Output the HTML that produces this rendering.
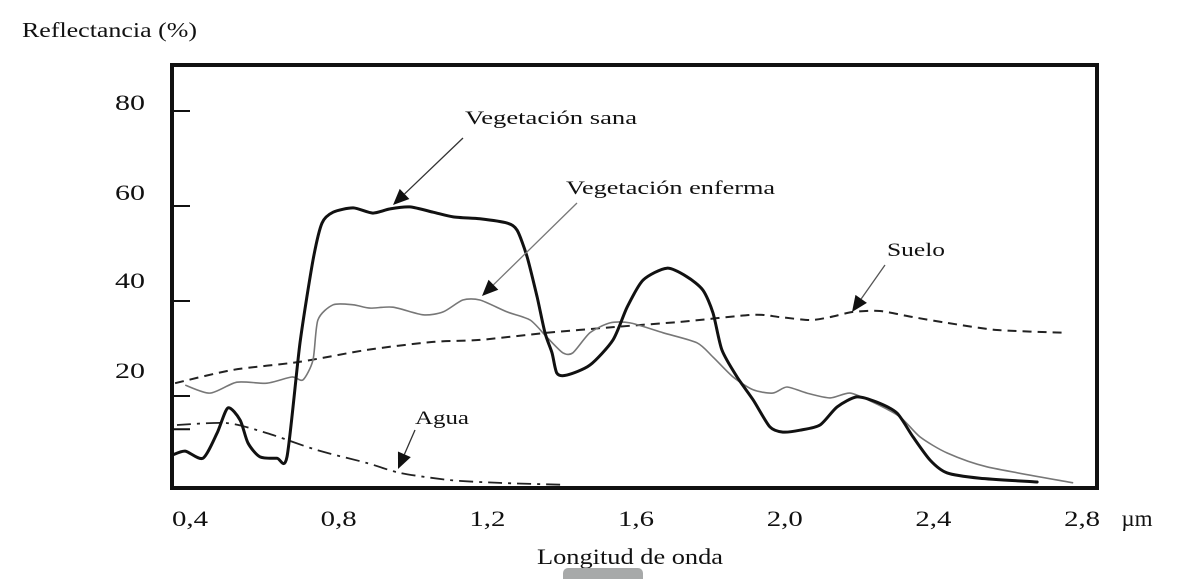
<!DOCTYPE html>
<html><head><meta charset="utf-8"><style>
html,body{margin:0;padding:0;background:#fff;}
svg{display:block;font-family:"Liberation Serif",serif;}
</style></head><body>
<svg id="chart" width="1180" height="579" viewBox="0 0 1180 579" xmlns="http://www.w3.org/2000/svg">
<text x="22" y="37" font-size="21" textLength="175" lengthAdjust="spacingAndGlyphs" fill="#111">Reflectancia (%)</text>
<text x="537" y="564" font-size="22" textLength="186" lengthAdjust="spacingAndGlyphs" fill="#111">Longitud de onda</text>
<rect x="563" y="568" width="80" height="16" rx="5" fill="#a7a9a9"/>
<g id="marks"></g>
<rect x="172" y="65" width="925" height="423" fill="none" stroke="#111" stroke-width="4"/>
<g id="ticks"></g>
<g fill="#111" font-size="19">
<text x="465" y="124" textLength="172" lengthAdjust="spacingAndGlyphs">Vegetación sana</text>
<text x="566" y="194" textLength="209" lengthAdjust="spacingAndGlyphs">Vegetación enferma</text>
<text x="887" y="256" textLength="58" lengthAdjust="spacingAndGlyphs">Suelo</text>
<text x="415" y="424" textLength="54" lengthAdjust="spacingAndGlyphs">Agua</text>
</g>
<g id="arrows"></g>
</svg>
<script>
// ---- data ----
const xTicks = [0.4, 0.8, 1.2, 1.6, 2.0, 2.4, 2.8];
const xTickLabels = ["0,4", "0,8", "1,2", "1,6", "2,0", "2,4", "2,8"];
const yTicks = [80, 60, 40, 20, 13];
const yTickLabels = ["80", "60", "40", "20", ""];
const sanaWl = [0.354,0.387,0.435,0.473,0.502,0.535,0.556,0.588,0.634,0.661,0.696,0.731,0.755,0.785,0.839,0.892,0.938,0.992,1.054,1.108,1.180,1.253,1.280,1.307,1.334,1.355,1.374,1.387,1.414,1.476,1.538,1.576,1.619,1.683,1.737,1.780,1.807,1.831,1.872,1.915,1.960,1.995,2.041,2.095,2.141,2.194,2.248,2.302,2.345,2.391,2.437,2.525,2.679];
const sanaVal = [7.6,8.4,6.9,12.2,17.5,14.9,10.1,7.2,6.9,7.2,31.2,48.6,56.4,58.7,59.6,58.5,59.4,59.8,58.7,57.7,57.3,56.4,54.9,49.3,40.8,33.3,29.1,24.8,24.4,26.5,31.8,38.7,44.4,46.9,45.1,42.3,37.5,29.7,24.0,19.2,13.5,12.4,12.8,13.9,17.7,19.8,18.7,16.4,11.4,6.5,3.8,2.7,1.9];
const enfWl = [0.387,0.454,0.526,0.607,0.674,0.704,0.731,0.744,0.785,0.839,0.884,0.946,1.027,1.081,1.134,1.180,1.253,1.315,1.360,1.403,1.430,1.476,1.530,1.584,1.673,1.764,1.807,1.861,1.915,1.968,2.006,2.060,2.122,2.176,2.237,2.310,2.364,2.437,2.544,2.776];
const enfVal = [22.3,20.6,22.9,22.7,24.0,23.4,27.6,36.0,39.2,39.2,38.5,38.7,37.1,37.7,40.2,40.2,37.7,36.0,32.4,29.1,29.1,33.3,35.4,35.4,33.3,31.2,28.2,24.0,21.3,20.6,21.9,20.6,19.6,20.6,18.7,15.6,11.4,8.0,5.1,1.7];
const sueloWl = [0.360,0.516,0.696,0.876,1.054,1.180,1.360,1.538,1.718,1.915,1.987,2.068,2.122,2.184,2.256,2.345,2.437,2.571,2.759];
const sueloVal = [22.7,25.5,27.2,29.7,31.4,31.8,33.3,34.5,35.6,37.1,36.6,36.0,36.6,37.7,37.9,36.6,35.4,33.9,33.3];
const aguaWl = [0.365,0.500,0.607,0.742,0.876,0.965,1.099,1.234,1.409];
const aguaVal = [13.9,14.3,12.2,8.6,5.9,3.8,2.3,1.7,1.3];

// ---- axes ----
const xS = v => 190 + (v - 0.4) * 371.7;
const yS = r => 491 - r * 4.75;
const NS = "http://www.w3.org/2000/svg";
function mk(tag, attrs, parent){const e=document.createElementNS(NS,tag);for(const k in attrs)e.setAttribute(k,attrs[k]);parent.appendChild(e);return e;}

function smooth(xs, ys){
  const p = xs.map((v,i)=>[xS(v), yS(ys[i])]);
  const k = 1/8;
  let d = "M"+p[0][0].toFixed(1)+","+p[0][1].toFixed(1);
  for(let i=0;i<p.length-1;i++){
    const p0=p[Math.max(0,i-1)], p1=p[i], p2=p[i+1], p3=p[Math.min(p.length-1,i+2)];
    const c1=[p1[0]+(p2[0]-p0[0])*k, p1[1]+(p2[1]-p0[1])*k];
    const c2=[p2[0]-(p3[0]-p1[0])*k, p2[1]-(p3[1]-p1[1])*k];
    d+=" C"+c1[0].toFixed(1)+","+c1[1].toFixed(1)+" "+c2[0].toFixed(1)+","+c2[1].toFixed(1)+" "+p2[0].toFixed(1)+","+p2[1].toFixed(1);
  }
  return d;
}
const marks = document.getElementById("marks");
const sueloPath = mk("path",{d:smooth(sueloWl,sueloVal),fill:"none",stroke:"#222","stroke-width":2,"stroke-dasharray":"9,6"},marks);


const aguaPath = mk("path",{d:smooth(aguaWl,aguaVal),fill:"none",stroke:"#222","stroke-width":1.8,"stroke-dasharray":"14,6,3,6"},marks);


const enfPath = mk("path",{d:smooth(enfWl,enfVal),fill:"none",stroke:"#777","stroke-width":1.6,"stroke-linejoin":"round"},marks);


const sanaPath = mk("path",{d:smooth(sanaWl,sanaVal),fill:"none",stroke:"#111","stroke-width":3,"stroke-linejoin":"round","stroke-linecap":"round"},marks);



const ticks = document.getElementById("ticks");
const yLabelY = [102, 192, 280, 370, 0];
yTicks.forEach((t,i)=>{
  const l = mk("line",{x1:172,x2:190,y1:yS(t),y2:yS(t),stroke:"#111","stroke-width":2},ticks);
  
  
  if(yTickLabels[i]){
    const tx = mk("text",{x:115,y:yLabelY[i]+8,"font-size":22,textLength:30,lengthAdjust:"spacingAndGlyphs",fill:"#111"},ticks);
    tx.textContent = yTickLabels[i];
    
    
  }
});
xTicks.forEach((t,i)=>{
  const tx = mk("text",{x:xS(t)-18,y:526,"font-size":22,textLength:36,lengthAdjust:"spacingAndGlyphs",fill:"#111"},ticks);
  tx.textContent = xTickLabels[i];
  
  
});
const um = mk("text",{x:1137,y:526,"font-size":23,"text-anchor":"middle",fill:"#111"},ticks);
um.textContent = "\u00b5m";



// annotation arrows (pixel positions)
const arrows = document.getElementById("arrows");
function arrow(x1,y1,x2,y2,col,name){
  const g = mk("g",{},arrows);
  
  
  const a = Math.atan2(y2-y1,x2-x1), L=16, W=7;
  const bx=x2-L*Math.cos(a), by=y2-L*Math.sin(a);
  mk("line",{x1:x1,y1:y1,x2:bx,y2:by,stroke:col,"stroke-width":1.3},g);
  const px=-Math.sin(a)*W, py=Math.cos(a)*W;
  mk("polygon",{points:`${x2},${y2} ${bx+px},${by+py} ${bx-px},${by-py}`,fill:"#111"},g);
}
arrow(463,138,393,205,"#333","arrow-sana");
arrow(577,203,482,296,"#777","arrow-enferma");
arrow(885,265,852,312,"#555","arrow-suelo");
arrow(415,430,398,469,"#333","arrow-agua");
</script>
</body></html>
